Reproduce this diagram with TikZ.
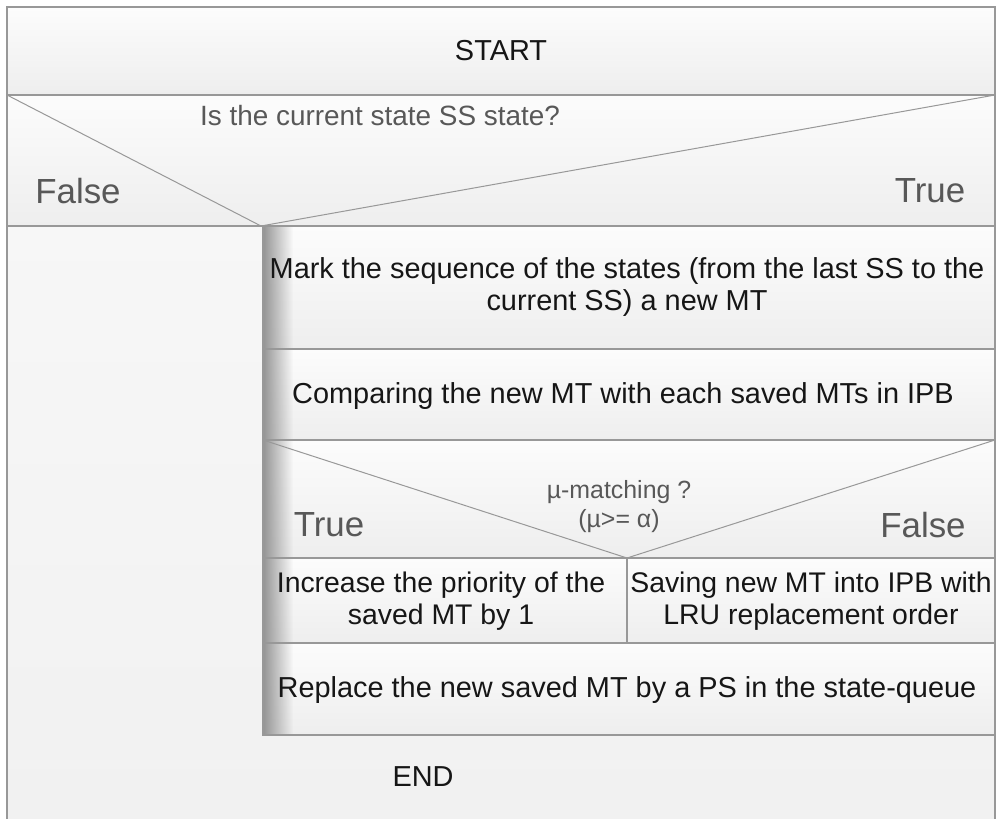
\documentclass[tikz,border=0pt]{standalone}
\usepackage{fontspec}
\setmainfont{Liberation Sans}
\usetikzlibrary{fadings}
\definecolor{lc}{RGB}{152,152,152}
\definecolor{lbl}{RGB}{88,88,88}
\definecolor{txt}{RGB}{22,22,22}
\definecolor{ctop}{RGB}{252,252,252}
\definecolor{cbot}{RGB}{238,238,238}
\definecolor{bgtop}{RGB}{249,249,249}
\definecolor{bgbot}{RGB}{241,241,241}
\tikzfading[name=shadowfade, left color=transparent!0, right color=transparent!100]
\tikzset{
  cell/.style={top color=ctop, bottom color=cbot},
  body/.style={font=\fontsize{29}{32}\selectfont, text=txt, align=center, inner sep=0pt},
  splittext/.style={body, font=\fontsize{28.5}{32}\selectfont},
  qtext/.style={font=\fontsize{28}{31}\selectfont, text=lbl, inner sep=0pt},
  smalltext/.style={font=\fontsize{25}{29}\selectfont, text=lbl, align=center, inner sep=0pt},
  branch/.style={font=\fontsize{35}{38}\selectfont, text=lbl, inner sep=0pt},
  rule/.style={draw=lc, line width=1.5bp},
}
\begin{document}
\begin{tikzpicture}[x=1bp,y=-1bp]
\useasboundingbox (0,0) rectangle (996,819);
% backgrounds
\shade[top color=bgtop, bottom color=bgbot] (7,7) rectangle (996,819);
\shade[cell] (7,7) rectangle (995,95);
\shade[cell] (7,95) rectangle (995,226);
\shade[cell] (263,226) rectangle (995,349);
\shade[cell] (263,349) rectangle (995,440);
\shade[cell] (263,440) rectangle (995,558);
\shade[cell] (263,558) rectangle (627,643);
\shade[cell] (627,558) rectangle (995,643);
\shade[cell] (263,643) rectangle (995,735);
% shadow on the left edge of the inner block
\fill[black!42, path fading=shadowfade] (263,226) rectangle (293,735);
% named corners
\coordinate (tl) at (7,7);
\coordinate (tr) at (995,7);
\coordinate (bl) at (7,819);
\coordinate (br) at (995,819);
\coordinate (d1l) at (7,95);
\coordinate (d1r) at (995,95);
\coordinate (d1bl) at (7,226);
\coordinate (d1br) at (995,226);
\coordinate (d1v) at (261,226);
\coordinate (in1) at (263,226);
\coordinate (r1l) at (263,349);
\coordinate (r1r) at (995,349);
\coordinate (r2l) at (263,440);
\coordinate (r2r) at (995,440);
\coordinate (r3l) at (263,558);
\coordinate (r3r) at (995,558);
\coordinate (d2v) at (627,558);
\coordinate (d2b) at (627,643);
\coordinate (r4l) at (263,643);
\coordinate (r4r) at (995,643);
\coordinate (r5l) at (263,735);
\coordinate (r5r) at (995,735);
% lines
\draw[rule] (bl) -- (tl) -- (tr) -- (br);
\draw[rule] (d1l) -- (d1r);
\draw[rule] (d1bl) -- (d1br);
\draw[rule, line width=1bp] (d1l) -- (d1v) -- (d1r);
\draw[rule] (in1) -- (r5l) -- (r5r);
\draw[rule] (r1l) -- (r1r);
\draw[rule] (r2l) -- (r2r);
\draw[rule] (r3l) -- (r3r);
\draw[rule] (r4l) -- (r4r);
\draw[rule, line width=1bp] (r2l) -- (d2v) -- (r2r);
\draw[rule] (d2v) -- (d2b);
% texts
\node[body] (start) at (501,51) {START};
\node[qtext] (q1) at (380,116) {Is the current state SS state?};
\node[branch] (f1) at (78,191) {False};
\node[branch] (t1) at (930,191) {True};
\node[body] (mark) at (627,287) {Mark the sequence of the states (from the last SS to the\\current SS) a new MT};
\node[body] (cmp) at (623,396) {Comparing the new MT with each saved MTs in IPB};
\node[smalltext] (q2) at (619,507) {µ-matching ?\\(µ>= α)};
\node[branch] (t2) at (329,525) {True};
\node[branch] (f2) at (923,525) {False};
\node[splittext] (inc) at (441,601) {Increase the priority of the\\saved MT by 1};
\node[splittext] (sav) at (811,601) {Saving new MT into IPB with\\LRU replacement order};
\node[body] (rep) at (627,690) {Replace the new saved MT by a PS in the state-queue};
\node[body] (end) at (423,777) {END};
\end{tikzpicture}
\end{document}
